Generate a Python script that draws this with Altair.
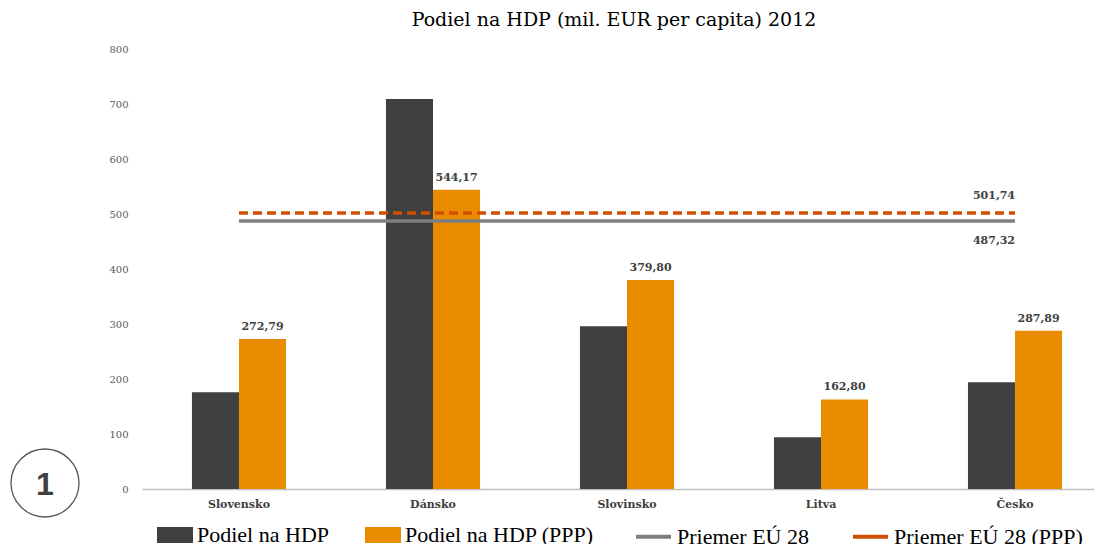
import altair as alt
import pandas as pd

countries = ["Slovensko", "Dánsko", "Slovinsko", "Litva", "Česko"]
hdp = [176, 709, 296, 94, 194]
hdp_ppp = [272.79, 544.17, 379.80, 162.80, 287.89]
eu_avg = 487.32
eu_avg_ppp = 501.74

bar_series = ["Podiel na HDP", "Podiel na HDP (PPP)"]
line_series = ["Priemer EÚ 28", "Priemer EÚ 28 (PPP)"]

def fmt(v):
    return f"{v:.2f}".replace(".", ",")

bars = pd.DataFrame(
    [{"country": c, "series": bar_series[0], "value": v} for c, v in zip(countries, hdp)]
    + [{"country": c, "series": bar_series[1], "value": v, "label": fmt(v)} for c, v in zip(countries, hdp_ppp)]
)
lines = pd.DataFrame(
    [{"country": c, "series": line_series[0], "value": eu_avg} for c in countries]
    + [{"country": c, "series": line_series[1], "value": eu_avg_ppp} for c in countries]
)
lines["label"] = lines["value"].map(fmt)

SERIF = "DejaVu Serif"

xscale = alt.Scale(type="band", paddingInner=0.515, paddingOuter=0.211, align=0.61)
xaxis = alt.Axis(labelAngle=0, labelFont=SERIF, labelFontWeight="bold", labelFontSize=11,
                 labelColor="#404040", labelPadding=9, ticks=False,
                 domainColor="#BFBFBF", domainWidth=1.5)
x = alt.X("country:N", sort=countries, title=None, scale=xscale, axis=xaxis)
xc = alt.X("country:N", sort=countries, title=None, scale=xscale, axis=xaxis, bandPosition=0.5)
y = alt.Y("value:Q", title=None,
          scale=alt.Scale(domain=[0, 800]),
          axis=alt.Axis(values=[0, 100, 200, 300, 400, 500, 600, 700, 800], grid=False, domain=False,
                        ticks=False, labelFont=SERIF, labelFontSize=10, labelColor="#595959",
                        labelPadding=14))

xoff = alt.XOffset("series:N", sort=bar_series, scale=alt.Scale(paddingInner=0, paddingOuter=0))

bar_layer = alt.Chart(bars).mark_bar().encode(
    x=x, y=y, xOffset=xoff,
    fill=alt.Fill("series:N", sort=bar_series,
                  scale=alt.Scale(domain=bar_series, range=["#404040", "#EA8C00"]),
                  legend=alt.Legend(title=None, orient="none", legendX=15, legendY=468,
                                    direction="horizontal", labelFont="Liberation Serif",
                                    labelFontSize=22, labelColor="#000000", labelLimit=400,
                                    symbolType="M-1,-0.44H1V0.44H-1Z", symbolSize=1296,
                                    symbolStrokeWidth=0, columnPadding=36, labelOffset=4)),
)

label_layer = alt.Chart(bars).transform_filter(alt.datum.series == bar_series[1]).mark_text(
    font=SERIF, fontWeight="bold", fontSize=11, color="#404040", dy=-12
).encode(x=x, y=y, xOffset=xoff, text="label:N")

line_layer = alt.Chart(lines).mark_line(strokeWidth=3.5).encode(
    x=xc, y=y,
    stroke=alt.Stroke("series:N", sort=line_series,
                      scale=alt.Scale(domain=line_series, range=["#7F7F7F", "#D24E01"]),
                      legend=alt.Legend(title=None, orient="none", legendX=492, legendY=468,
                                        direction="horizontal", labelFont="Liberation Serif",
                                        labelFontSize=22, labelColor="#000000", labelLimit=400,
                                        symbolType="stroke", symbolSize=1225, symbolStrokeWidth=4,
                                        columnPadding=36, labelOffset=4)),
    strokeDash=alt.StrokeDash("series:N", sort=line_series,
                              scale=alt.Scale(domain=line_series, range=[[1, 0], [9, 5]]),
                              legend=None),
    detail="series:N",
)

ppp_label = alt.Chart(lines).transform_filter(
    (alt.datum.country == countries[-1]) & (alt.datum.series == line_series[1])
).mark_text(font=SERIF, fontWeight="bold", fontSize=11, color="#404040", align="right", dy=-17
).encode(x=xc, y=y, text="label:N")

eu_label = alt.Chart(lines).transform_filter(
    (alt.datum.country == countries[-1]) & (alt.datum.series == line_series[0])
).mark_text(font=SERIF, fontWeight="bold", fontSize=11, color="#404040", align="right", dy=20
).encode(x=xc, y=y, text="label:N")

circle_layer = alt.Chart(pd.DataFrame({"k": [1]})).mark_point(
    shape="circle", filled=False, stroke="#555555", strokeWidth=1.3, size=4624, opacity=1
).encode(x=alt.value(-97), y=alt.value(434))

one_layer = alt.Chart(pd.DataFrame({"t": ["1"]})).mark_text(
    font="Liberation Sans", fontWeight="bold", fontSize=32, color="#404040"
).encode(x=alt.value(-97), y=alt.value(436), text="t:N")

chart = alt.layer(bar_layer, line_layer, label_layer, ppp_label, eu_label, circle_layer, one_layer).resolve_scale(
    fill="independent", stroke="independent"
).properties(
    width=952, height=440,
    autosize=alt.AutoSizeParams(type="none"),
    padding={"left": 134, "top": 41, "right": 0, "bottom": 55},
    title=alt.TitleParams("Podiel na HDP (mil. EUR per capita) 2012", font=SERIF, fontSize=19,
                          fontWeight="normal", color="#000000", offset=14, dx=-4),
).configure_view(stroke=None)

chart.save("out.html", embed_options={"renderer": "svg", "actions": False})
